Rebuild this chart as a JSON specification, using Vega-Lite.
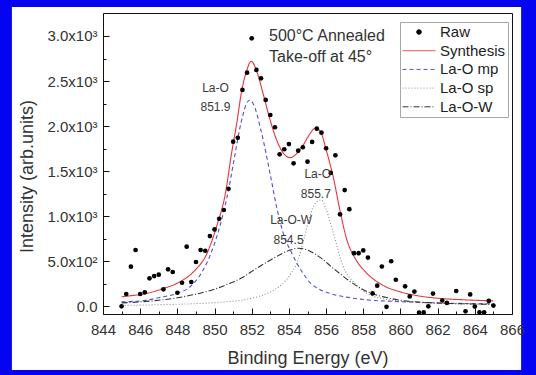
{
  "$schema": "https://vega.github.io/schema/vega-lite/v6.json",
  "width": 409,
  "height": 301,
  "autosize": {"type": "none"},
  "padding": {"left": 103, "top": 13, "right": 24, "bottom": 61},
  "background": "#0404f0",
  "config": {
    "view": {"stroke": null},
    "axis": {
      "grid": false,
      "labelOverlap": false,
      "labelFlush": false,
      "domainColor": "#111111",
      "domainWidth": 1,
      "tickColor": "#111111",
      "tickWidth": 1,
      "labelColor": "#333333",
      "titleColor": "#333333",
      "labelFont": "Liberation Sans",
      "titleFont": "Liberation Sans",
      "labelFontSize": 15,
      "titleFontSize": 18,
      "titleFontWeight": "normal"
    },
    "text": {"font": "Liberation Sans"}
  },
  "datasets": {
    "raw": [
      {"E": 845.0, "I": 0}, {"E": 845.25, "I": 137}, {"E": 845.5, "I": 440}, {"E": 845.75, "I": 625},
      {"E": 846.0, "I": 137}, {"E": 846.25, "I": 155}, {"E": 846.5, "I": 311}, {"E": 846.75, "I": 336},
      {"E": 847.0, "I": 351}, {"E": 847.25, "I": 189}, {"E": 847.5, "I": 411}, {"E": 847.75, "I": 381},
      {"E": 848.0, "I": 151}, {"E": 848.25, "I": 262}, {"E": 848.5, "I": 662}, {"E": 848.75, "I": 270},
      {"E": 849.0, "I": 492}, {"E": 849.25, "I": 625}, {"E": 849.5, "I": 617}, {"E": 849.75, "I": 780},
      {"E": 850.0, "I": 854}, {"E": 850.25, "I": 972}, {"E": 850.5, "I": 1069}, {"E": 850.75, "I": 1305},
      {"E": 851.0, "I": 1827}, {"E": 851.25, "I": 1871}, {"E": 851.5, "I": 2401}, {"E": 851.75, "I": 2593},
      {"E": 852.0, "I": 2974}, {"E": 852.25, "I": 2623}, {"E": 852.5, "I": 2530}, {"E": 852.75, "I": 2290},
      {"E": 853.0, "I": 2123}, {"E": 853.25, "I": 1987}, {"E": 853.5, "I": 1687}, {"E": 853.75, "I": 1743},
      {"E": 854.0, "I": 1801}, {"E": 854.25, "I": 1587}, {"E": 854.5, "I": 1727}, {"E": 854.75, "I": 1765},
      {"E": 855.0, "I": 1605}, {"E": 855.25, "I": 1824}, {"E": 855.5, "I": 1971}, {"E": 855.75, "I": 1927},
      {"E": 856.0, "I": 1754}, {"E": 856.25, "I": 1480}, {"E": 856.5, "I": 1676}, {"E": 856.75, "I": 1021},
      {"E": 857.0, "I": 1290}, {"E": 857.25, "I": 1078}, {"E": 857.5, "I": 590}, {"E": 857.75, "I": 590},
      {"E": 858.0, "I": 620}, {"E": 858.25, "I": 541}, {"E": 858.5, "I": 143}, {"E": 858.75, "I": 229},
      {"E": 859.0, "I": 442}, {"E": 859.25, "I": -5}, {"E": 859.5, "I": 500}, {"E": 859.75, "I": 295},
      {"E": 860.25, "I": 222}, {"E": 860.5, "I": 110}, {"E": 860.75, "I": 164}, {"E": 861.0, "I": -70},
      {"E": 861.25, "I": -68}, {"E": 861.5, "I": 0}, {"E": 861.75, "I": 142}, {"E": 862.25, "I": 65},
      {"E": 862.5, "I": 38}, {"E": 863.0, "I": 170}, {"E": 863.5, "I": -55}, {"E": 863.75, "I": 132},
      {"E": 864.0, "I": -3}, {"E": 864.25, "I": -66}, {"E": 864.5, "I": -66}, {"E": 864.75, "I": 60},
      {"E": 865.0, "I": 8}
    ],
    "fit": [
      {"curve": "Synthesis", "E": 845.0, "I": 105}, {"curve": "Synthesis", "E": 845.5, "I": 118},
      {"curve": "Synthesis", "E": 846.2, "I": 137}, {"curve": "Synthesis", "E": 847.2, "I": 195},
      {"curve": "Synthesis", "E": 848.1, "I": 268}, {"curve": "Synthesis", "E": 848.9, "I": 390},
      {"curve": "Synthesis", "E": 849.6, "I": 590}, {"curve": "Synthesis", "E": 850.1, "I": 880},
      {"curve": "Synthesis", "E": 850.6, "I": 1270}, {"curve": "Synthesis", "E": 850.9, "I": 1680},
      {"curve": "Synthesis", "E": 851.2, "I": 2040}, {"curve": "Synthesis", "E": 851.45, "I": 2380},
      {"curve": "Synthesis", "E": 851.75, "I": 2630}, {"curve": "Synthesis", "E": 851.97, "I": 2720},
      {"curve": "Synthesis", "E": 852.25, "I": 2620}, {"curve": "Synthesis", "E": 852.6, "I": 2370},
      {"curve": "Synthesis", "E": 853.0, "I": 2060}, {"curve": "Synthesis", "E": 853.35, "I": 1840},
      {"curve": "Synthesis", "E": 853.7, "I": 1700}, {"curve": "Synthesis", "E": 854.05, "I": 1650},
      {"curve": "Synthesis", "E": 854.4, "I": 1690}, {"curve": "Synthesis", "E": 854.8, "I": 1800},
      {"curve": "Synthesis", "E": 855.1, "I": 1905}, {"curve": "Synthesis", "E": 855.45, "I": 1980},
      {"curve": "Synthesis", "E": 855.75, "I": 1915}, {"curve": "Synthesis", "E": 856.0, "I": 1740},
      {"curve": "Synthesis", "E": 856.4, "I": 1420}, {"curve": "Synthesis", "E": 856.75, "I": 1060},
      {"curve": "Synthesis", "E": 857.1, "I": 750}, {"curve": "Synthesis", "E": 857.6, "I": 520},
      {"curve": "Synthesis", "E": 858.2, "I": 365}, {"curve": "Synthesis", "E": 859.0, "I": 240},
      {"curve": "Synthesis", "E": 860.0, "I": 160}, {"curve": "Synthesis", "E": 861.0, "I": 115},
      {"curve": "Synthesis", "E": 862.0, "I": 90}, {"curve": "Synthesis", "E": 863.5, "I": 72},
      {"curve": "Synthesis", "E": 865.0, "I": 60},

      {"curve": "La-O mp", "E": 845.0, "I": 50}, {"curve": "La-O mp", "E": 846.2, "I": 65},
      {"curve": "La-O mp", "E": 847.1, "I": 100}, {"curve": "La-O mp", "E": 848.0, "I": 145},
      {"curve": "La-O mp", "E": 848.7, "I": 220}, {"curve": "La-O mp", "E": 849.2, "I": 340},
      {"curve": "La-O mp", "E": 849.75, "I": 560}, {"curve": "La-O mp", "E": 850.3, "I": 900},
      {"curve": "La-O mp", "E": 850.75, "I": 1290}, {"curve": "La-O mp", "E": 851.0, "I": 1570},
      {"curve": "La-O mp", "E": 851.45, "I": 2060}, {"curve": "La-O mp", "E": 851.7, "I": 2240},
      {"curve": "La-O mp", "E": 851.9, "I": 2290}, {"curve": "La-O mp", "E": 852.1, "I": 2240},
      {"curve": "La-O mp", "E": 852.5, "I": 1950}, {"curve": "La-O mp", "E": 853.0, "I": 1460},
      {"curve": "La-O mp", "E": 853.35, "I": 1090}, {"curve": "La-O mp", "E": 853.7, "I": 810},
      {"curve": "La-O mp", "E": 854.2, "I": 570}, {"curve": "La-O mp", "E": 854.75, "I": 370},
      {"curve": "La-O mp", "E": 855.15, "I": 260}, {"curve": "La-O mp", "E": 855.6, "I": 195},
      {"curve": "La-O mp", "E": 856.2, "I": 144}, {"curve": "La-O mp", "E": 857.0, "I": 105},
      {"curve": "La-O mp", "E": 858.2, "I": 72}, {"curve": "La-O mp", "E": 860.0, "I": 52},
      {"curve": "La-O mp", "E": 862.0, "I": 38}, {"curve": "La-O mp", "E": 865.0, "I": 28},

      {"curve": "La-O sp", "E": 845.0, "I": 10}, {"curve": "La-O sp", "E": 847.0, "I": 18},
      {"curve": "La-O sp", "E": 849.0, "I": 30}, {"curve": "La-O sp", "E": 850.5, "I": 48},
      {"curve": "La-O sp", "E": 851.5, "I": 70}, {"curve": "La-O sp", "E": 852.3, "I": 105},
      {"curve": "La-O sp", "E": 853.0, "I": 160}, {"curve": "La-O sp", "E": 853.6, "I": 240},
      {"curve": "La-O sp", "E": 854.1, "I": 360}, {"curve": "La-O sp", "E": 854.5, "I": 520},
      {"curve": "La-O sp", "E": 854.8, "I": 740}, {"curve": "La-O sp", "E": 855.1, "I": 980},
      {"curve": "La-O sp", "E": 855.4, "I": 1140}, {"curve": "La-O sp", "E": 855.75, "I": 1180},
      {"curve": "La-O sp", "E": 856.0, "I": 1080}, {"curve": "La-O sp", "E": 856.3, "I": 880},
      {"curve": "La-O sp", "E": 856.6, "I": 660}, {"curve": "La-O sp", "E": 856.9, "I": 450},
      {"curve": "La-O sp", "E": 857.45, "I": 275}, {"curve": "La-O sp", "E": 858.2, "I": 145},
      {"curve": "La-O sp", "E": 859.2, "I": 80}, {"curve": "La-O sp", "E": 860.9, "I": 45},
      {"curve": "La-O sp", "E": 863.5, "I": 26}, {"curve": "La-O sp", "E": 865.0, "I": 20},

      {"curve": "La-O-W", "E": 845.0, "I": 38}, {"curve": "La-O-W", "E": 846.0, "I": 50},
      {"curve": "La-O-W", "E": 847.0, "I": 68}, {"curve": "La-O-W", "E": 848.0, "I": 95},
      {"curve": "La-O-W", "E": 849.0, "I": 135}, {"curve": "La-O-W", "E": 850.0, "I": 190},
      {"curve": "La-O-W", "E": 850.75, "I": 250}, {"curve": "La-O-W", "E": 851.5, "I": 320},
      {"curve": "La-O-W", "E": 852.1, "I": 400}, {"curve": "La-O-W", "E": 852.8, "I": 490},
      {"curve": "La-O-W", "E": 853.4, "I": 560}, {"curve": "La-O-W", "E": 854.0, "I": 620},
      {"curve": "La-O-W", "E": 854.5, "I": 645}, {"curve": "La-O-W", "E": 855.0, "I": 625},
      {"curve": "La-O-W", "E": 855.7, "I": 540}, {"curve": "La-O-W", "E": 856.4, "I": 420},
      {"curve": "La-O-W", "E": 857.3, "I": 275}, {"curve": "La-O-W", "E": 858.2, "I": 165},
      {"curve": "La-O-W", "E": 859.2, "I": 100}, {"curve": "La-O-W", "E": 860.0, "I": 68},
      {"curve": "La-O-W", "E": 861.8, "I": 38}, {"curve": "La-O-W", "E": 863.5, "I": 28},
      {"curve": "La-O-W", "E": 865.0, "I": 22}
    ],
    "header": [
      {"E": 852.93, "I": 3000, "text": "500°C Annealed"},
      {"E": 852.93, "I": 2767, "text": "Take-off at 45°"}
    ],
    "peaks": [
      {"E": 850.05, "I": 2426, "text": "La-O"},
      {"E": 850.05, "I": 2209, "text": "851.9"},
      {"E": 855.55, "I": 1466, "text": "La-O"},
      {"E": 855.45, "I": 1243, "text": "855.7"},
      {"E": 854.12, "I": 958, "text": "La-O-W"},
      {"E": 853.98, "I": 734, "text": "854.5"}
    ]
  },
  "layer": [
    {
      "description": "white page inside the blue frame, plus the top and right edges of the plot box",
      "data": {"values": [{}]},
      "mark": {"type": "rect", "fill": "white"},
      "encoding": {
        "x": {
          "datum": 839.1,
          "type": "quantitative",
          "scale": {"domain": [844, 866], "nice": false, "zero": false},
          "axis": {"orient": "top", "zindex": 2, "ticks": false, "labels": false, "title": null, "domain": true}
        },
        "x2": {"datum": 866.49},
        "y": {
          "datum": 3322,
          "type": "quantitative",
          "scale": {"domain": [-85, 3255], "nice": false, "zero": false},
          "axis": {"orient": "right", "zindex": 2, "ticks": false, "labels": false, "title": null, "domain": true}
        },
        "y2": {"datum": -706}
      }
    },
    {
      "description": "fitted envelope and components",
      "data": {"name": "fit"},
      "mark": {"type": "line", "interpolate": "monotone", "strokeWidth": 1.1},
      "encoding": {
        "x": {
          "field": "E",
          "type": "quantitative",
          "scale": {"domain": [844, 866], "nice": false, "zero": false},
          "axis": {
            "orient": "bottom",
            "zindex": 2,
            "values": [844, 846, 848, 850, 852, 854, 856, 858, 860, 862, 864, 866],
            "format": "d",
            "tickSize": -6,
            "labelPadding": 14,
            "title": "Binding Energy (eV)",
            "titlePadding": 12
          }
        },
        "y": {
          "field": "I",
          "type": "quantitative",
          "scale": {"domain": [-85, 3255], "nice": false, "zero": false},
          "axis": {
            "orient": "left",
            "zindex": 2,
            "values": [0, 500, 1000, 1500, 2000, 2500, 3000],
            "labelExpr": "datum.value == 0 ? '0.0' : datum.value < 1000 ? format(datum.value / 100, '.1f') + 'x10²' : format(datum.value / 1000, '.1f') + 'x10³'",
            "tickSize": -6,
            "labelPadding": 12,
            "title": "Intensity (arb.units)",
            "titlePadding": 10,
            "titleY": 163
          }
        },
        "color": {
          "field": "curve",
          "type": "nominal",
          "scale": {
            "domain": ["Raw", "Synthesis", "La-O mp", "La-O sp", "La-O-W"],
            "range": ["#000000", "#e8343c", "#4f4fd6", "#8a8a8a", "#333333"]
          },
          "legend": {
            "title": null,
            "orient": "none",
            "legendX": 297,
            "legendY": 9,
            "strokeColor": "#a8a8a8",
            "fillColor": "white",
            "padding": 2,
            "symbolSize": 1089,
            "symbolStrokeWidth": 1,
            "clipHeight": 16,
            "rowPadding": 2.7,
            "labelFont": "Liberation Sans",
            "labelFontSize": 15,
            "labelColor": "#222222",
            "labelOffset": 4,
            "encode": {
              "symbols": {
                "update": {
                  "shape": {"signal": "datum.value === 'Raw' ? 'circle' : 'stroke'"},
                  "size": {"signal": "datum.value === 'Raw' ? 22 : 1089"},
                  "fill": {"signal": "datum.value === 'Raw' ? '#000000' : 'transparent'"},
                  "stroke": {"signal": "scale('color', datum.value)"},
                  "strokeWidth": {"value": 1},
                  "strokeDash": {"signal": "datum.value === 'La-O mp' ? [4, 3] : datum.value === 'La-O sp' ? [1, 2] : datum.value === 'La-O-W' ? [6, 2, 1, 2] : [1, 0]"}
                }
              }
            }
          }
        },
        "strokeDash": {
          "field": "curve",
          "type": "nominal",
          "scale": {
            "domain": ["Synthesis", "La-O mp", "La-O sp", "La-O-W"],
            "range": [[1, 0], [4, 3], [1, 2], [6, 2, 1, 2]]
          },
          "legend": null
        }
      }
    },
    {
      "description": "measured spectrum; carries the minor ticks",
      "data": {"name": "raw"},
      "mark": {"type": "point", "filled": true, "size": 22, "opacity": 1},
      "encoding": {
        "x": {
          "field": "E",
          "type": "quantitative",
          "axis": {
            "orient": "bottom",
            "zindex": 2,
            "values": [845, 847, 849, 851, 853, 855, 857, 859, 861, 863, 865],
            "tickSize": -3,
            "labels": false,
            "domain": false,
            "title": null
          }
        },
        "y": {
          "field": "I",
          "type": "quantitative",
          "axis": {
            "orient": "left",
            "zindex": 2,
            "values": [250, 750, 1250, 1750, 2250, 2750],
            "tickSize": -3,
            "labels": false,
            "domain": false,
            "title": null
          }
        },
        "color": {"datum": "Raw", "type": "nominal", "legend": null}
      }
    },
    {
      "data": {"name": "header"},
      "mark": {"type": "text", "align": "left", "baseline": "middle", "fontSize": 16, "color": "#333333"},
      "encoding": {
        "x": {"field": "E", "type": "quantitative", "axis": null},
        "y": {"field": "I", "type": "quantitative", "axis": null},
        "text": {"field": "text"}
      }
    },
    {
      "data": {"name": "peaks"},
      "mark": {"type": "text", "align": "center", "baseline": "middle", "fontSize": 12, "color": "#3a3a3a"},
      "encoding": {
        "x": {"field": "E", "type": "quantitative", "axis": null},
        "y": {"field": "I", "type": "quantitative", "axis": null},
        "text": {"field": "text"}
      }
    }
  ],
  "resolve": {"axis": {"x": "independent", "y": "independent"}}
}
